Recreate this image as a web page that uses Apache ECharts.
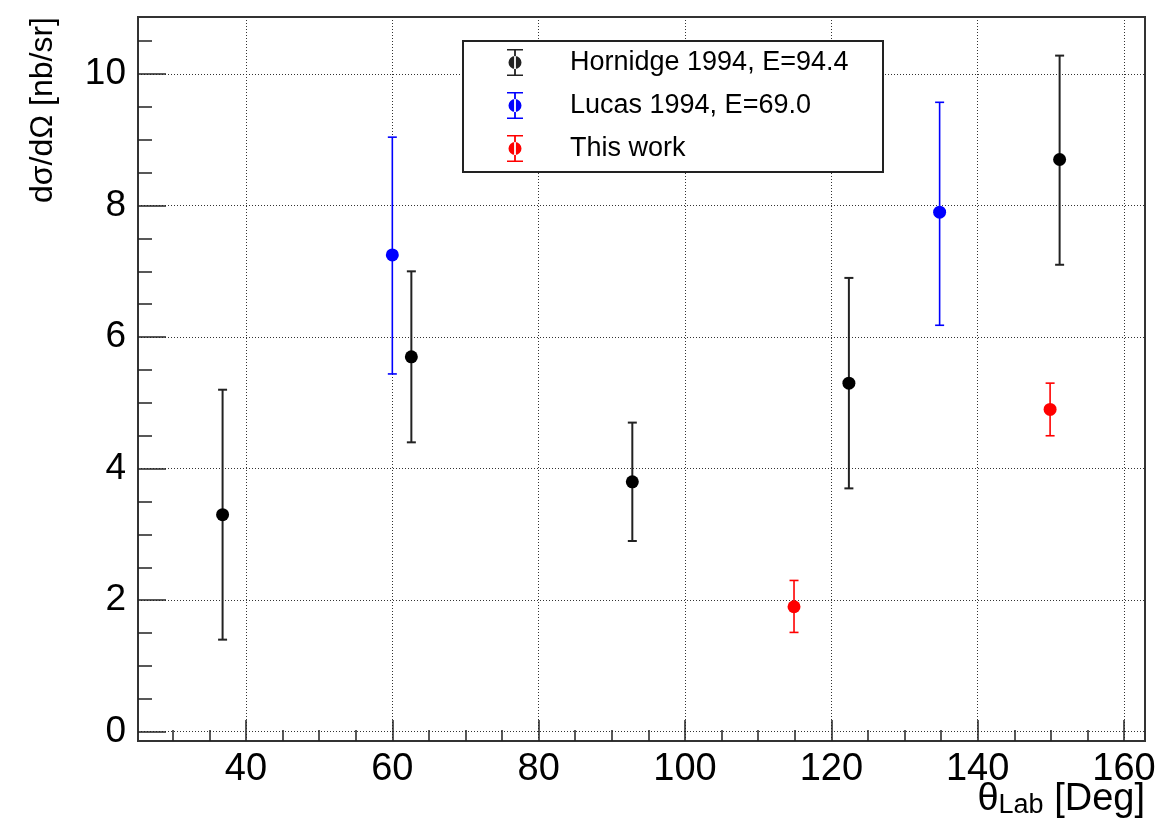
<!DOCTYPE html>
<html><head><meta charset="utf-8">
<script src="https://cdn.jsdelivr.net/npm/echarts@6/dist/echarts.min.js"></script>
<style>html,body{margin:0;padding:0;background:#fff}#c{width:1164px;height:819px}</style>
</head><body><div id="c"></div>
<script>
// ---- data ----
const hornidgeX  = [36.8, 62.6, 92.8, 122.4, 151.2];
const hornidgeY  = [3.3, 5.7, 3.8, 5.3, 8.7];
const hornidgeLo = [1.4, 4.4, 2.9, 3.7, 7.1];
const hornidgeHi = [5.2, 7.0, 4.7, 6.9, 10.28];

const lucasX  = [60.0, 134.8];
const lucasY  = [7.25, 7.9];
const lucasLo = [5.44, 6.18];
const lucasHi = [9.04, 9.57];

const thisX  = [114.9, 149.9];
const thisY  = [1.9, 4.9];
const thisLo = [1.51, 4.5];
const thisHi = [2.3, 5.3];

const seriesNames = ['Hornidge 1994, E=94.4', 'Lucas 1994, E=69.0', 'This work'];

const xMajorTicks = [40, 60, 80, 100, 120, 140, 160];
const xMinorTicks = [30, 35, 45, 50, 55, 65, 70, 75, 85, 90, 95, 105, 110, 115, 125, 130, 135, 145, 150, 155];
const yMajorTicks = [0, 2, 4, 6, 8, 10];
const yMinorTicks = [0.5, 1, 1.5, 2.5, 3, 3.5, 4.5, 5, 5.5, 6.5, 7, 7.5, 8.5, 9, 9.5, 10.5];

const xRange = [25.24, 162.87];
const yRange = [-0.141, 10.867];

// ---- chart ----
const FONT = 'Liberation Sans';
const chart = echarts.init(document.getElementById('c'), null, {renderer: 'canvas'});

function pts(xs, ys) { return xs.map((x, i) => [x, ys[i]]); }
function bars(xs, lo, hi) { return xs.map((x, i) => [x, lo[i], hi[i]]); }

function errSeries(name, data, color, lw) {
  return {
    name: name, type: 'custom', z: 2, silent: true,
    xAxisIndex: 0, yAxisIndex: 0,
    encode: {x: 0, y: [1, 2]},
    itemStyle: {color: color},
    data: data,
    renderItem: function (params, api) {
      const x = api.value(0), lo = api.value(1), hi = api.value(2);
      const a = api.coord([x, lo]), b = api.coord([x, hi]);
      const hw = 4.5;
      const st = {stroke: color, lineWidth: lw};
      return {type: 'group', children: [
        {type: 'line', shape: {x1: a[0], y1: a[1], x2: b[0], y2: b[1]}, style: st},
        {type: 'line', shape: {x1: a[0] - hw, y1: a[1], x2: a[0] + hw, y2: a[1]}, style: st},
        {type: 'line', shape: {x1: b[0] - hw, y1: b[1], x2: b[0] + hw, y2: b[1]}, style: st}
      ]};
    }
  };
}
function ptSeries(name, data, color) {
  return {
    name: name, type: 'scatter', z: 3,
    xAxisIndex: 0, yAxisIndex: 0,
    symbol: 'circle', symbolSize: 13,
    itemStyle: {color: color, opacity: 1},
    data: data
  };
}

const ICON = 'path://M0 0H16V1.6H0ZM0 25.4H16V27H0ZM7.1 0H8.9V27H7.1ZM1.5 13.5A6.5 6.5 0 1 0 14.5 13.5A6.5 6.5 0 1 0 1.5 13.5Z';

const gridLine = {show: true, lineStyle: {color: '#333', width: 1, type: [1, 2]}};

const option = {
  backgroundColor: '#fff',
  animation: false,
  grid: {left: 138, right: 19, top: 17, bottom: 78, show: true, borderColor: '#333', borderWidth: 2,
         backgroundColor: 'transparent', containLabel: false, outerBoundsMode: 'none'},
  xAxis: [
    {type: 'value', min: xRange[0], max: xRange[1], position: 'bottom', splitNumber: 7,
     axisLine: {show: true, onZero: false, lineStyle: {color: '#333', width: 2}},
     axisTick: {show: true, inside: true, length: 21, customValues: xMajorTicks, lineStyle: {color: '#222', width: 1.5}},
     axisLabel: {show: true, customValues: xMajorTicks, margin: 10, fontSize: 38, fontFamily: FONT, color: '#000'},
     splitLine: gridLine,
     name: '{a|θ}{s|Lab}{a| [Deg]}', nameLocation: 'end', nameGap: 0, nameMoveOverlap: false,
     nameTextStyle: {align: 'right', verticalAlign: 'top', padding: [36, 0, 0, 0], fontFamily: FONT, color: '#000',
       rich: {a: {fontSize: 38, fontFamily: FONT, color: '#000', lineHeight: 42, verticalAlign: 'bottom'},
              s: {fontSize: 27, fontFamily: FONT, color: '#000', lineHeight: 42, verticalAlign: 'bottom'}}}},
    {type: 'value', min: xRange[0], max: xRange[1], position: 'bottom', splitNumber: 7,
     axisLine: {show: false, onZero: false},
     axisTick: {show: true, inside: true, length: 11, customValues: xMinorTicks, lineStyle: {color: '#222', width: 1.5}},
     axisLabel: {show: false}, splitLine: {show: false}}
  ],
  yAxis: [
    {type: 'value', min: yRange[0], max: yRange[1], position: 'left', splitNumber: 5,
     axisLine: {show: true, onZero: false, lineStyle: {color: '#333', width: 2}},
     axisTick: {show: true, inside: true, length: 28, customValues: yMajorTicks, lineStyle: {color: '#222', width: 1.5}},
     axisLabel: {show: true, customValues: yMajorTicks, margin: 12, fontSize: 37, fontFamily: FONT, color: '#000'},
     splitLine: gridLine,
     name: 'dσ/dΩ [nb/sr]', nameLocation: 'end', nameGap: 0, nameRotate: 90, nameMoveOverlap: false,
     nameTextStyle: {fontSize: 32, fontFamily: FONT, color: '#000', align: 'right', verticalAlign: 'bottom', padding: [0, 0, 79, 0]}},
    {type: 'value', min: yRange[0], max: yRange[1], position: 'left', splitNumber: 5,
     axisLine: {show: false, onZero: false},
     axisTick: {show: true, inside: true, length: 14, customValues: yMinorTicks, lineStyle: {color: '#222', width: 1.5}},
     axisLabel: {show: false}, splitLine: {show: false}}
  ],
  graphic: {elements: [
    {type: 'rect', z: 3, zlevel: 0, shape: {x: 463, y: 41, width: 420, height: 131},
     style: {fill: '#fff', stroke: '#222', lineWidth: 2}}
  ]},
  legend: {
    show: true, z: 5, orient: 'vertical', left: 463, top: 41,
    itemWidth: 16, itemHeight: 27, itemGap: 16, padding: [8, 0, 0, 44],
    symbolKeepAspect: true,
    textStyle: {fontSize: 27, fontFamily: FONT, color: '#000', padding: [0, 0, 0, 42]},
    data: [
      {name: seriesNames[0], icon: ICON},
      {name: seriesNames[1], icon: ICON},
      {name: seriesNames[2], icon: ICON}
    ]
  },
  series: [
    errSeries(seriesNames[0], bars(hornidgeX, hornidgeLo, hornidgeHi), '#222', 2),
    errSeries(seriesNames[1], bars(lucasX, lucasLo, lucasHi), '#0000ff', 1.6),
    errSeries(seriesNames[2], bars(thisX, thisLo, thisHi), '#ff0000', 1.6),
    ptSeries(seriesNames[0], pts(hornidgeX, hornidgeY), '#000'),
    ptSeries(seriesNames[1], pts(lucasX, lucasY), '#0000ff'),
    ptSeries(seriesNames[2], pts(thisX, thisY), '#ff0000')
  ]
};
chart.setOption(option);
</script></body></html>
